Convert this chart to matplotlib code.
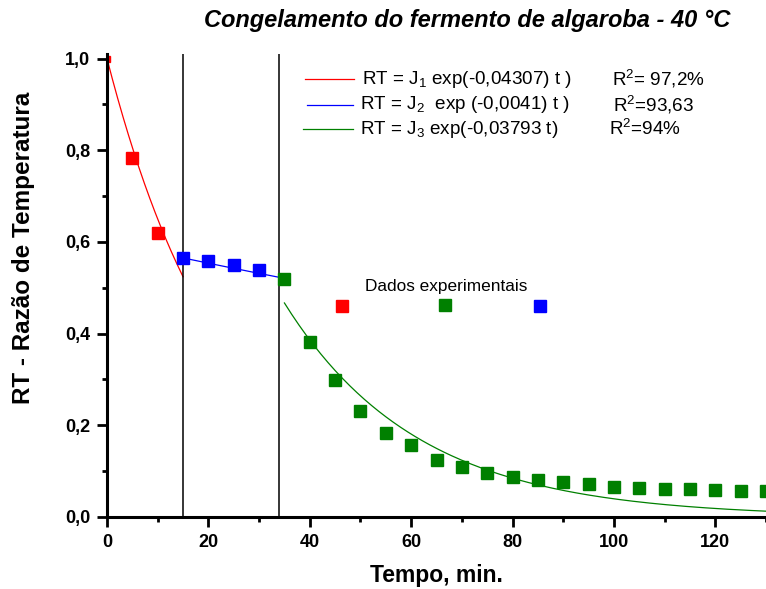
import numpy as np
import matplotlib
matplotlib.use("Agg")
import matplotlib.pyplot as plt
from matplotlib.ticker import MultipleLocator, FuncFormatter

plt.rcParams['font.family'] = ['Liberation Sans', 'DejaVu Sans']
plt.rcParams['mathtext.fontset'] = 'custom'
plt.rcParams['mathtext.rm'] = 'Liberation Sans'

# dados experimentais
t_red = [0, 5, 10]
rt_red = [1.0, 0.783, 0.62]
t_blue = [15, 20, 25, 30]
rt_blue = [0.566, 0.559, 0.55, 0.539]
t_green = [35, 40, 45, 50, 55, 60, 65, 70, 75, 80, 85, 90, 95, 100,
           105, 110, 115, 120, 125, 130]
rt_green = [0.52, 0.381, 0.299, 0.232, 0.183, 0.157, 0.124, 0.108, 0.095, 0.087,
            0.081, 0.076, 0.072, 0.066, 0.063, 0.062, 0.060, 0.059, 0.057, 0.057]

# ajustes exponenciais RT = J exp(-k t)
J = [1.0, 0.601, 1.761]
k = [0.04307, 0.0041, 0.03793]
fit_ranges = [(0, 15), (15, 34), (35, 130)]
limites = [15, 34]

# marcadores da legenda "Dados experimentais"
leg_t = [46.3, 66.7, 85.5]
leg_rt = [0.46, 0.463, 0.461]

legend_eq = ["RT = J$_1$ exp(-0,04307) t )",
             "RT = J$_2$  exp (-0,0041) t )",
             "RT = J$_3$ exp(-0,03793 t)"]
legend_r2 = ["R$^2$= 97,2%", "R$^2$=93,63", "R$^2$=94%"]

cores = ['#ff0000', '#0000ff', '#008000']

fig = plt.figure(figsize=(7.66, 5.89), dpi=100)
ax = fig.add_axes([107 / 766, 72 / 589, 659 / 766, 463 / 589])

for i in range(3):
    tt = np.linspace(fit_ranges[i][0], fit_ranges[i][1], 200)
    ax.plot(tt, J[i] * np.exp(-k[i] * tt), color=cores[i], lw=0.9)

for x in limites:
    ax.axvline(x, color='black', lw=1.1)

ax.plot(t_red[1:], rt_red[1:], 's', color=cores[0], ms=8, mec=cores[0])
ax.plot(t_red[:1], rt_red[:1], 's', color=cores[0], ms=5, mec=cores[0])
ax.plot(t_blue, rt_blue, 's', color=cores[1], ms=8, mec=cores[1])
ax.plot(t_green, rt_green, 's', color=cores[2], ms=8, mec=cores[2])

for i in range(3):
    ax.plot(leg_t[i], leg_rt[i], 's', color=cores[[0, 2, 1][i]], ms=8)
ax.text(66.9, 0.502, "Dados experimentais", ha='center', va='center', fontsize=12.4)

# legenda das equacoes
ys = [0.946, 0.890, 0.838]
xs_line = [(0.300, 0.375), (0.303, 0.373), (0.298, 0.373)]
xs_r2 = [0.766, 0.768, 0.762]
for i in range(3):
    ax.plot(xs_line[i], [ys[i], ys[i]], color=cores[i], lw=0.9, transform=ax.transAxes)
    ax.text(0.387 - (0.003 if i else 0), ys[i], legend_eq[i], transform=ax.transAxes,
            va='center', fontsize=13.6)
    ax.text(xs_r2[i], ys[i], legend_r2[i], transform=ax.transAxes,
            va='center', fontsize=13.6)

ax.set_xlim(0, 130)
ax.set_ylim(0, 1.01)
ax.xaxis.set_major_locator(MultipleLocator(20))
ax.xaxis.set_minor_locator(MultipleLocator(10))
ax.yaxis.set_major_locator(MultipleLocator(0.2))
ax.yaxis.set_minor_locator(MultipleLocator(0.1))
ax.yaxis.set_major_formatter(FuncFormatter(lambda v, p: f"{v:.1f}".replace('.', ',')))

for s in ['top', 'right']:
    ax.spines[s].set_visible(False)
for s in ['left', 'bottom']:
    ax.spines[s].set_linewidth(2.2)

ax.tick_params(which='major', length=7, width=2, direction='out', labelsize=13, pad=5)
ax.tick_params(which='minor', length=3.5, width=2, direction='out')
for lab in ax.get_xticklabels() + ax.get_yticklabels():
    lab.set_fontweight('bold')

ax.set_xlabel("Tempo, min.", fontsize=16.5, fontweight='bold', va='center')
ax.set_ylabel("RT - Razão de Temperatura", fontsize=17.5, fontweight='bold', va='center')
ax.xaxis.set_label_coords(0.5, -0.127)
ax.yaxis.set_label_coords(-0.126, 0.581)
fig.text(0.61, 0.966, "Congelamento do fermento de algaroba - 40 °C", ha='center',
         va='center', fontsize=17, fontweight='bold', fontstyle='italic')

fig.savefig("out.png", dpi=100)
